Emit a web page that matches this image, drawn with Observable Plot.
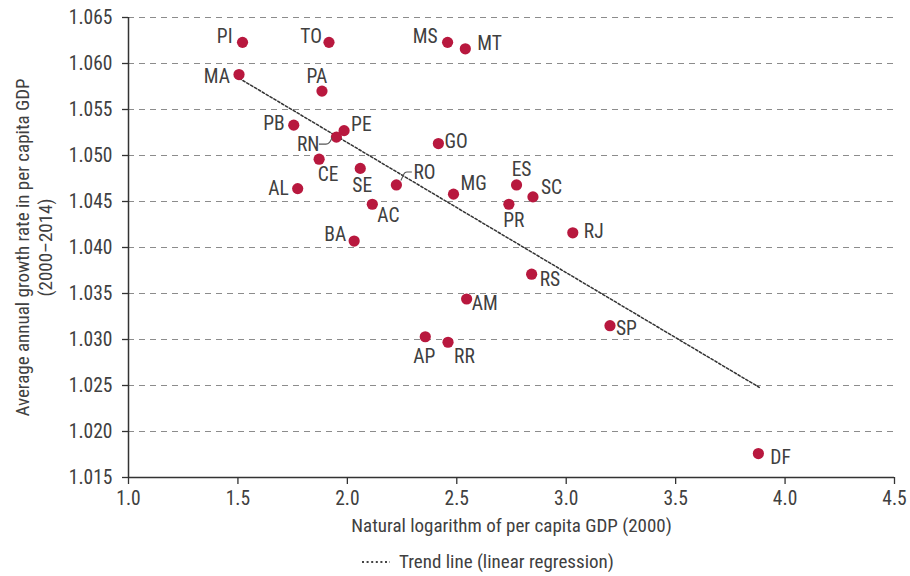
<!DOCTYPE html>
<html>
<head>
<meta charset="utf-8">
<script src="https://cdn.jsdelivr.net/npm/d3@7"></script>
<script src="https://cdn.jsdelivr.net/npm/@observablehq/plot@0.6"></script>
<style>
  body { margin: 0; background: #fff; }
  #chart { position: relative; width: 910px; }
  .legend { position: relative; height: 31px; font-family: "Liberation Sans Narrow", "Roboto Condensed", "DejaVu Sans Condensed", sans-serif; font-size: 19px; color: #404040; }
  .legend .item { position: absolute; left: 361px; top: 5px; display: flex; align-items: center; gap: 8px; }
</style>
</head>
<body>
<div id="chart"></div>
<script>
// ---- data ----
const states = ["PI","TO","MS","MT","MA","PA","PB","PE","RN","GO","CE","SE","RO","AL","AC","BA","MG","ES","SC","PR","RJ","RS","AM","SP","RR","AP","DF"];
const lnGdp  = [1.521,1.916,2.458,2.539,1.505,1.884,1.755,1.985,1.950,2.416,1.871,2.059,2.224,1.773,2.114,2.031,2.485,2.773,2.848,2.738,3.030,2.842,2.545,3.200,2.460,2.356,3.878];
const growth = [1.0623,1.0623,1.0623,1.0616,1.0588,1.0570,1.0533,1.0527,1.0520,1.0513,1.0496,1.0486,1.0468,1.0464,1.0447,1.0407,1.0458,1.0468,1.0455,1.0447,1.0416,1.0371,1.0344,1.0315,1.0297,1.0303,1.0176];
const trendX = [1.505, 3.882];
const trendY = [1.0584, 1.0248];
const xTicks = [1.0,1.5,2.0,2.5,3.0,3.5,4.0,4.5];
const yTicks = [1.015,1.020,1.025,1.030,1.035,1.040,1.045,1.050,1.055,1.060,1.065];
const xTitle = "Natural logarithm of per capita GDP (2000)";
const yTitle = "Average annual growth rate in per capita GDP\n(2000\u20132014)";
const legendText = "Trend line (linear regression)";

// label placement (layout, not data)
const place = {
  PI:["end",-10,-6], TO:["end",-7,-6], MS:["end",-10,-6], MT:["start",12,-5],
  MA:["end",-9,2], PA:["middle",-5,-14], PB:["end",-9,-1], PE:["start",7,-6],
  RN:["end",-17,8], GO:["start",6,-2], CE:["middle",9,16], SE:["middle",2,17],
  RO:["start",17,-12], AL:["end",-9,0], AC:["start",5,11], BA:["end",-8,-6],
  MG:["start",7,-10], ES:["middle",5,-15], SC:["start",8,-9], PR:["middle",5,16],
  RJ:["start",11,-1], RS:["start",8,6], AM:["start",5,5], SP:["start",6,3],
  RR:["start",6,14], AP:["middle",-1,20], DF:["start",12,4]
};

const pts = states.map((s,i) => ({state:s, x:lnGdp[i], y:growth[i]}));
const trend = trendX.map((x,i) => ({x, y:trendY[i]}));

const FONT = '"Liberation Sans Narrow", "Roboto Condensed", "DejaVu Sans Condensed", sans-serif';
const TXT = "#404040";

const labelMarks = pts.map(p => {
  const [a, dx, dy] = place[p.state];
  return Plot.text([p], {x:"x", y:"y", text:"state", textAnchor:a, dx, dy, fill:TXT, fontSize:19.5, lineAnchor:"middle"});
});

const plot = Plot.plot({
  width: 910,
  height: 545,
  marginTop: 17,
  marginBottom: 68,
  marginLeft: 128,
  marginRight: 16,
  style: {fontFamily: FONT, fontSize: "19.5px", color: TXT, background: "#fff"},
  x: {domain:[1.0,4.5], ticks:xTicks, tickFormat:d3.format(".1f"), label:null},
  y: {domain:[1.015,1.065], ticks:yTicks, tickFormat:d3.format(".3f"), label:null},
  marks: [
    Plot.gridY(yTicks.filter(d => d > 1.015), {stroke:"#8c8c8c", strokeOpacity:1, strokeDasharray:"6,5", strokeWidth:1.2}),
    Plot.axisX(xTicks, {tickSize:7, tickPadding:7, stroke:"#333", strokeWidth:1.3, fill:TXT, fontSize:19.5, tickFormat:d3.format(".1f")}),
    Plot.axisY(yTicks, {tickSize:6, tickPadding:10, stroke:"#333", strokeWidth:1.3, fill:TXT, fontSize:19.5, tickFormat:d3.format(".3f")}),
    Plot.ruleX([1.0], {stroke:"#333", strokeWidth:1.5}),
    Plot.ruleY([1.015], {stroke:"#333", strokeWidth:1.5}),
    Plot.line(trend, {x:"x", y:"y", stroke:"#333", strokeWidth:1.5, strokeDasharray:"2.5,2"}),
    Plot.dot(pts, {x:"x", y:"y", r:5.6, fill:"#b8183e", stroke:"none"}),
    ...labelMarks,
    Plot.text([xTitle], {frameAnchor:"bottom", dy:48, text:d=>d, fill:TXT, fontSize:19, lineAnchor:"middle"}),
    Plot.text([yTitle], {frameAnchor:"left", textAnchor:"middle", dx:-95, rotate:-90, text:d=>d, fill:TXT, fontSize:19, lineAnchor:"middle", lineHeight:1.2})
  ]
});

// leader lines for RN and RO, positioned through the plot's scales
const sx = plot.scale("x"), sy = plot.scale("y");
const leaders = {
  RN: "M -17 7.5 L -10 7.5 Q -6 7.5 -4 1",
  RO: "M 5 -4 L 8 -10.5 Q 9 -12.5 11 -12.5 L 16 -12.5"
};
const svg = d3.select(plot);
pts.filter(p => leaders[p.state]).forEach(p => {
  const cx = sx.apply(p.x), cy = sy.apply(p.y);
  svg.append("path")
    .attr("d", leaders[p.state])
    .attr("transform", `translate(${cx},${cy})`)
    .attr("fill", "none").attr("stroke", "#555").attr("stroke-width", 1.1);
});

const chart = document.getElementById("chart");
chart.appendChild(plot);

const legend = document.createElement("div");
legend.className = "legend";
legend.innerHTML = `<div class="item"><svg width="30" height="10"><line x1="1" y1="5" x2="29" y2="5" stroke="#444" stroke-width="2" stroke-dasharray="2,2.6"/></svg><span></span></div>`;
legend.querySelector("span").textContent = legendText;
chart.appendChild(legend);
</script>
</body>
</html>
